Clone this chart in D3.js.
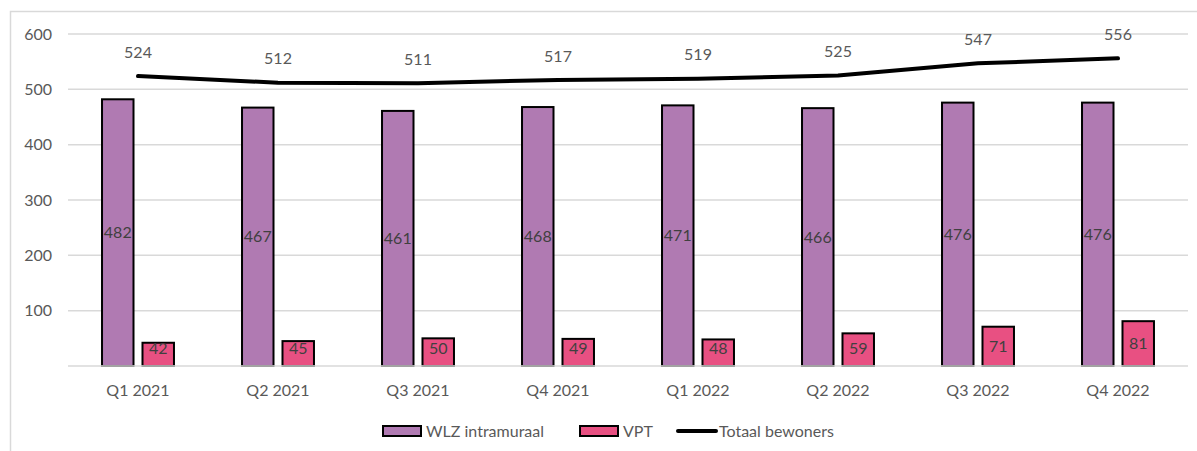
<!DOCTYPE html>
<html>
<head>
<meta charset="utf-8">
<script src="https://cdn.jsdelivr.net/npm/d3@7"></script>
<style>
  body { margin: 0; background: #fff; }
  text { font-family: Lato, "Open Sans", sans-serif; }
</style>
</head>
<body>
<div id="chart"></div>
<script>
// data
const quarters = ["Q1 2021", "Q2 2021", "Q3 2021", "Q4 2021", "Q1 2022", "Q2 2022", "Q3 2022", "Q4 2022"]
const wlz = [482, 467, 461, 468, 471, 466, 476, 476]
const vpt = [42, 45, 50, 49, 48, 59, 71, 81]
const totaal = [524, 512, 511, 517, 519, 525, 547, 556]
const yTicks = [100, 200, 300, 400, 500, 600]
const seriesNames = ["WLZ intramuraal", "VPT", "Totaal bewoners"]

var width = 1197,
    height = 451

const svg = d3.select("#chart")
  .append("svg")
    .attr("width", width)
    .attr("height", height)

// outer chart border (only left/top visible in the crop)
svg.append("rect")
  .attr("x", 10.5).attr("y", 11.5)
  .attr("width", 1300).attr("height", 600)
  .attr("fill", "none")
  .attr("stroke", "#d9d9d9")
  .attr("stroke-width", 1.5)

const plotLeft = 68, plotRight = 1188

const x = d3.scaleBand()
  .domain(quarters)
  .range([plotLeft, plotRight])
  .paddingInner(0.486)
  .paddingOuter(0.243)

const x1 = d3.scaleBand()
  .domain(["wlz", "vpt"])
  .range([0, x.bandwidth()])
  .paddingInner(0.222)

const y = d3.scaleLinear()
  .domain([0, 600])
  .range([366, 34])

const colors = { wlz: "#b07ab2", vpt: "#e85082" }
const fs = "16px"

// gridlines
svg.append("g")
  .selectAll("line")
  .data(yTicks)
  .join("line")
    .attr("x1", plotLeft).attr("x2", plotRight)
    .attr("y1", d => y(d)).attr("y2", d => y(d))
    .attr("stroke", "#d9d9d9")
    .attr("stroke-width", 1.5)

// y axis labels
svg.append("g")
  .selectAll("text")
  .data(yTicks)
  .join("text")
    .attr("x", 52)
    .attr("y", d => y(d))
    .attr("dy", "0.35em")
    .attr("text-anchor", "end")
    .attr("fill", "#595959")
    .style("font-size", fs)
    .text(d => d)

// bars
const rows = quarters.map((q, i) => ({ q: q, wlz: wlz[i], vpt: vpt[i], tot: totaal[i] }))

const groups = svg.append("g")
  .selectAll("g")
  .data(rows)
  .join("g")
    .attr("transform", d => `translate(${x(d.q)},0)`)

groups.selectAll("rect")
  .data(d => ["wlz", "vpt"].map(k => ({ key: k, value: d[k] })))
  .join("rect")
    .attr("x", d => x1(d.key))
    .attr("y", d => y(d.value))
    .attr("width", x1.bandwidth())
    .attr("height", d => y(0) - y(d.value))
    .attr("fill", d => colors[d.key])
    .attr("stroke", "#000")
    .attr("stroke-width", 2)

groups.selectAll("text.val")
  .data(d => ["wlz", "vpt"].map(k => ({ key: k, value: d[k] })))
  .join("text")
    .attr("class", "val")
    .attr("x", d => x1(d.key) + x1.bandwidth() / 2)
    .attr("y", d => Math.min((y(d.value) + y(0)) / 2, y(0) - 18))
    .attr("dy", "0.35em")
    .attr("text-anchor", "middle")
    .attr("fill", "#404040")
    .style("font-size", fs)
    .text(d => d.value)

// baseline
svg.append("line")
  .attr("x1", plotLeft).attr("x2", plotRight)
  .attr("y1", y(0)).attr("y2", y(0))
  .attr("stroke", "#d9d9d9")
  .attr("stroke-width", 1.5)

// x axis labels
svg.append("g")
  .selectAll("text")
  .data(quarters)
  .join("text")
    .attr("x", d => x(d) + x.bandwidth() / 2)
    .attr("y", 390)
    .attr("dy", "0.35em")
    .attr("text-anchor", "middle")
    .attr("fill", "#595959")
    .style("font-size", fs)
    .text(d => d)

// total line
const line = d3.line()
  .x(d => x(d.q) + x.bandwidth() / 2)
  .y(d => y(d.tot))

svg.append("path")
  .datum(rows)
  .attr("d", line)
  .attr("fill", "none")
  .attr("stroke", "#000")
  .attr("stroke-width", 4)
  .attr("stroke-linecap", "round")
  .attr("stroke-linejoin", "round")

svg.append("g")
  .selectAll("text")
  .data(rows)
  .join("text")
    .attr("x", d => x(d.q) + x.bandwidth() / 2)
    .attr("y", d => y(d.tot) - 24)
    .attr("dy", "0.35em")
    .attr("text-anchor", "middle")
    .attr("fill", "#595959")
    .style("font-size", fs)
    .text(d => d.tot)

// legend
const legend = svg.append("g")
  .attr("transform", "translate(0,431)")

const legendItems = [
  { name: seriesNames[0], type: "rect", color: colors.wlz, x: 383 },
  { name: seriesNames[1], type: "rect", color: colors.vpt, x: 580 },
  { name: seriesNames[2], type: "line", color: "#000", x: 676 }
]

legendItems.forEach(function(d) {
  if (d.type === "rect") {
    legend.append("rect")
      .attr("x", d.x).attr("y", -5)
      .attr("width", 38).attr("height", 10)
      .attr("fill", d.color)
      .attr("stroke", "#000")
      .attr("stroke-width", 2)
  } else {
    legend.append("line")
      .attr("x1", d.x + 2).attr("x2", d.x + 40)
      .attr("y1", 0).attr("y2", 0)
      .attr("stroke", d.color)
      .attr("stroke-width", 4)
      .attr("stroke-linecap", "round")
  }
  legend.append("text")
    .attr("x", d.x + 43)
    .attr("y", 0)
    .attr("dy", "0.35em")
    .attr("fill", "#595959")
    .style("font-size", fs)
    .text(d.name)
})
</script>
</body>
</html>
